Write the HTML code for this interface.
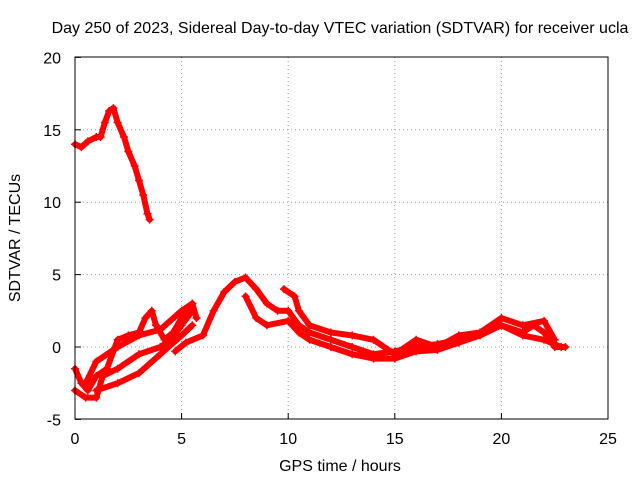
<!DOCTYPE html>
<html><head><meta charset="utf-8"><style>
body{margin:0;background:#fff;}
svg text{font-family:"Liberation Sans",sans-serif;font-size:16px;fill:#000;}
</style></head><body>
<svg id="chart" width="640" height="480" xmlns="http://www.w3.org/2000/svg">
<rect width="640" height="480" fill="#fff"/>
<text x="340" y="33" text-anchor="middle">Day 250 of 2023, Sidereal Day-to-day VTEC variation (SDTVAR) for receiver ucla</text>
<text x="340" y="471" text-anchor="middle">GPS time / hours</text>
<text transform="translate(20,238) rotate(-90)" text-anchor="middle">SDTVAR / TECUs</text>
<g id="grid"></g><g id="series"></g>
<rect x="75" y="57" width="533" height="362" fill="none" stroke="#000" stroke-width="1"/>
<g id="ticks"></g>
</svg>
<script>
const xTicks=[0,5,10,15,20,25];
const yTicks=[-5,0,5,10,15,20];
const s1=[[0,14],[0.3,13.8],[0.6,14.2],[1,14.5],[1.2,14.5],[1.4,15.5],[1.6,16.3],[1.8,16.5],[2,15.5],[2.3,14.5],[2.5,13.5],[2.8,12.5],[3,11.5],[3.2,10.5],[3.4,9.2],[3.5,8.8]];
const s2=[[0,-1.5],[0.3,-2.5],[0.6,-3],[1,-2],[1.5,-1.5],[2,0.5],[2.5,0.8],[3,1],[3.3,2],[3.6,2.5],[3.8,1.5],[4.2,0.5],[4.6,1],[5,2],[5.5,3],[5.7,2]];
const s3=[[0,-3],[0.5,-3.5],[1,-3.5],[1.3,-2],[2,-1.5],[3,-0.5],[4,0],[4.5,0.5],[5,1.5],[5.5,2.5]];
const s4=[[0.5,-2.5],[1,-1],[2,0],[3,0.8],[4,1.2],[5,2.5],[5.5,3]];
const s5=[[1,-3],[2,-2.5],[3,-1.8],[4,-0.5],[5,0.8],[5.5,1.5]];
const s6=[[4.7,-0.3],[5.2,0.3],[6,0.8],[6.5,2.5],[7,3.8],[7.5,4.5],[8,4.8],[8.5,4],[9,3],[9.5,2.5],[10,2.5],[10.5,1.5],[11,1],[12,0.5],[13,0],[14,-0.5],[15,-0.3],[16,0],[17,0.2],[18,0.5],[19,1],[20,1.5],[21,0.8],[22,0.5],[22.8,0]];
const s7=[[8,3.5],[8.5,2],[9,1.5],[10,1.8],[10.5,1],[11,0.5],[12,0],[13,-0.5],[14,-0.8],[15,-0.8],[16,-0.3],[17,-0.2],[18,0.3],[19,0.8],[20,1.5],[21,1],[21.5,1.5],[22,1],[22.5,0],[23,0]];
const s8=[[9.8,4],[10.3,3.5],[10.5,2.5],[11,1.5],[12,1],[13,0.8],[14,0.5],[15,-0.5],[16,0.5],[17,0],[18,0.8],[19,1],[20,2],[21,1.5],[22,1.8],[22.5,0.5]];
const allSeries=[s1,s2,s3,s4,s5,s6,s7,s8];
const X=v=>75+v*(533/25), Y=v=>347-v*(362/25);
const NS="http://www.w3.org/2000/svg";
function mk(t,a,p){const e=document.createElementNS(NS,t);for(const k in a)e.setAttribute(k,a[k]);p.appendChild(e);return e;}
const grid=document.getElementById('grid'),ticks=document.getElementById('ticks'),ser=document.getElementById('series');
xTicks.forEach(v=>{
 if(v>0&&v<25){const g=mk('line',{x1:X(v),x2:X(v),y1:57,y2:419,stroke:'#999','stroke-dasharray':'1,3'},grid);
 
 }
 mk('line',{x1:X(v),x2:X(v),y1:419,y2:413,stroke:'#000'},ticks);
 const t=mk('text',{x:X(v),y:444,'text-anchor':'middle'},ticks);t.textContent=v;
 
 
});
yTicks.forEach(v=>{
 if(v>-5&&v<20){const g=mk('line',{x1:75,x2:608,y1:Y(v),y2:Y(v),stroke:'#999','stroke-dasharray':'1,3'},grid);
 
 }
 mk('line',{x1:75,x2:81,y1:Y(v),y2:Y(v),stroke:'#000'},ticks);
 const t=mk('text',{x:61,y:Y(v)+6,'text-anchor':'end'},ticks);t.textContent=v;
 
 
});
allSeries.forEach((s,i)=>{
 const p=mk('polyline',{points:s.map(d=>X(d[0])+','+Y(d[1])).join(' '),fill:'none',stroke:'#f00','stroke-width':6,'stroke-linejoin':'round','stroke-linecap':'round'},ser);
 
 
 s.forEach(d=>{const x=X(d[0]),y=Y(d[1]);
  const m=mk('path',{d:`M${x-4},${y}H${x+4}M${x},${y-4}V${y+4}`,stroke:'#f00','stroke-width':1.5},ser);
  
  });
});
</script>
</body></html>
